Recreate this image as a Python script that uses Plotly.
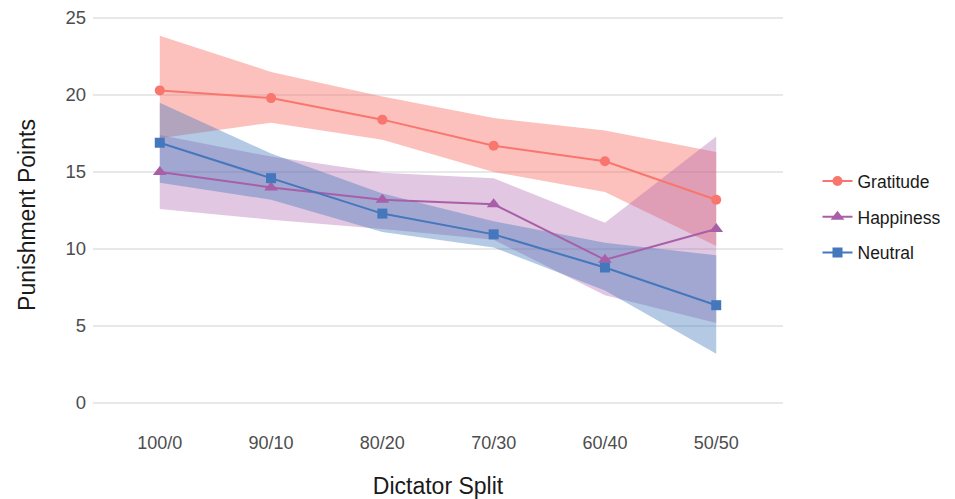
import plotly.graph_objects as go

splits = ["100/0", "90/10", "80/20", "70/30", "60/40", "50/50"]

gratitude = [20.3, 19.8, 18.4, 16.7, 15.7, 13.2]
gratitude_lo = [17.2, 18.2, 17.1, 15.0, 13.7, 10.2]
gratitude_hi = [23.85, 21.5, 19.9, 18.5, 17.7, 16.3]

happiness = [15.0, 14.0, 13.2, 12.9, 9.3, 11.3]
happiness_lo = [12.6, 11.9, 11.3, 10.6, 7.0, 5.2]
happiness_hi = [17.4, 16.0, 14.95, 14.6, 11.7, 17.3]

neutral = [16.9, 14.6, 12.3, 10.95, 8.8, 6.35]
neutral_lo = [14.3, 13.2, 11.1, 10.1, 7.3, 3.2]
neutral_hi = [19.5, 16.2, 13.6, 11.8, 10.4, 9.6]

series = [
    ("Gratitude", gratitude, gratitude_lo, gratitude_hi, "#F8766D", "rgba(248,118,109,0.45)", "circle", 10),
    ("Happiness", happiness, happiness_lo, happiness_hi, "#A85FA8", "rgba(168,95,168,0.35)", "triangle-up", 12),
    ("Neutral", neutral, neutral_lo, neutral_hi, "#4477BB", "rgba(68,119,187,0.40)", "square", 10),
]

fig = go.Figure()
for name, y, lo, hi, col, fcol, sym, sz in series:
    fig.add_trace(go.Scatter(x=splits + splits[::-1], y=hi + lo[::-1], fill="toself",
                             fillcolor=fcol, line=dict(width=0), mode="lines",
                             showlegend=False, hoverinfo="skip"))
for name, y, lo, hi, col, fcol, sym, sz in series:
    fig.add_trace(go.Scatter(x=splits, y=y, name=name, legendgroup=name, mode="lines+markers",
                             line=dict(color=col, width=2),
                             marker=dict(symbol=sym, size=sz, color=col)))

fig.update_layout(
    width=947, height=491,
    margin=dict(l=85, r=172, t=0, b=77),
    plot_bgcolor="white", paper_bgcolor="white",
    font=dict(family="Liberation Sans, Arial, sans-serif", size=18, color="#4d4d4d"),
    legend=dict(x=1.05, y=0.495, xanchor="left", yanchor="middle",
                font=dict(size=17.5, color="#1a1a1a"), tracegroupgap=10),
    showlegend=True,
)
fig.update_xaxes(categoryorder="array", categoryarray=splits, range=[-0.6, 5.6],
                 showgrid=False, zeroline=False, ticks="", showline=False, automargin=False,
                 tickfont=dict(size=18, color="#4d4d4d"), ticklabelstandoff=8,
                 title=dict(text="Dictator Split", font=dict(size=23, color="#1a1a1a"), standoff=30))
fig.update_yaxes(range=[-1.234, 25.65], tickvals=[0, 5, 10, 15, 20, 25],
                 showgrid=True, gridcolor="#e8e8e8", gridwidth=1.5, zeroline=False,
                 ticks="", showline=False, automargin=False, ticklabeloverflow="allow",
                 tickfont=dict(size=18.5, color="#4d4d4d"), ticklabelstandoff=6,
                 title=dict(text="Punishment Points", font=dict(size=23, color="#1a1a1a"), standoff=23))

fig.write_html("out.html")
